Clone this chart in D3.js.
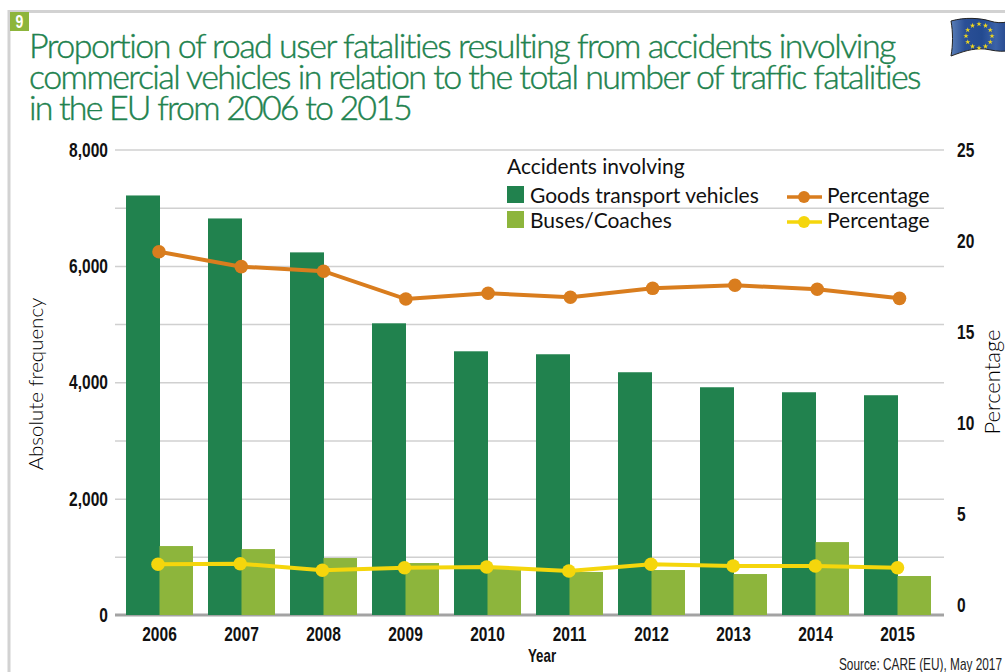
<!DOCTYPE html>
<html><head><meta charset="utf-8">
<script src="https://cdnjs.cloudflare.com/ajax/libs/d3/7.8.5/d3.min.js"></script>
<style>
html,body{margin:0;padding:0;background:#fff;overflow:hidden}
svg{display:block}
.t{font-family:"Lato","Open Sans",sans-serif;font-variant-ligatures:none}
.n{font-family:"Liberation Sans",sans-serif;font-weight:700}
</style></head><body>
<svg id="c" width="1005" height="672"></svg>
<script>
const years=[2006,2007,2008,2009,2010,2011,2012,2013,2014,2015];
const goods=[7210,6815,6232,5013,4532,4481,4172,3914,3828,3777];
const buses=[1185,1133,979,893,790,740,773,704,1253,670];
const goodsPct=[19.41,18.59,18.34,16.81,17.13,16.91,17.4,17.57,17.35,16.85];
const busesPct=[2.24,2.27,1.91,2.05,2.09,1.87,2.24,2.14,2.14,2.05];
const leftTicks=[0,2000,4000,6000,8000];
const gridTicks=[1000,2000,3000,4000,5000,6000,7000,8000];
const rightTicks=[0,5,10,15,20,25];
const titleLines=["Proportion of road user fatalities resulting from accidents involving","commercial vehicles in relation to the total number of traffic fatalities","in the EU from 2006 to 2015"];
const C={dark:"#21824e",light:"#8db53c",orange:"#d97d1e",yellow:"#f5d60c",grid:"#d0d0d0",base:"#a3a3a3",title:"#21824e"};

const svg=d3.select("#c");
const y=d3.scaleLinear().domain([0,8000]).range([615,149.5]);
const yR=d3.scaleLinear().domain([0,25]).range([605,150]);
const x=d3.scaleBand().domain(years).range([126,931]).paddingInner(15/82).paddingOuter(0);
const xIn=d3.scaleBand().domain(["g","b"]).range([0,x.bandwidth()]);
const xLineO=d3.scalePoint().domain(years).range([159,899.5]);
const xLineY=d3.scalePoint().domain(years).range([158,897.5]);
const NARROW=0.74;

// frame
svg.append("path").attr("d","M9,672V11.5H1005").attr("fill","none").attr("stroke","#d2d2d2").attr("stroke-width",3);
svg.append("rect").attr("x",10).attr("y",12).attr("width",19).attr("height",19).attr("fill",C.light);
svg.append("text").attr("class","n").attr("transform",`translate(19.5,28) scale(${NARROW},1)`).attr("text-anchor","middle").attr("font-size",19).attr("fill","#fff").text("9");

// title
svg.append("g").selectAll("text").data(titleLines).join("text").attr("class","t")
 .attr("x",29).attr("y",(d,i)=>58+i*31).attr("font-size",34).attr("fill",C.title)
 .attr("stroke",C.title).attr("stroke-width",0.4)
 .attr("font-weight",300).text(d=>d)
 .each(function(d,i){
   const target=[866,891,382][i];
   const n=this.getComputedTextLength();
   d3.select(this).attr("letter-spacing",((target-n)/d.length).toFixed(3));
 });

// flag
const flag=svg.append("g").attr("transform","translate(0,1)");
const defs=svg.append("defs");
const g=defs.append("linearGradient").attr("id","fg");
[[0,"#5a7fb8"],[.25,"#2a4f96"],[.55,"#234a90"],[.8,"#3b62a8"],[1,"#27498e"]].forEach(s=>g.append("stop").attr("offset",s[0]).attr("stop-color",s[1]));
flag.append("path").attr("d","M951,20C965,16 980,17 990,20C996,22 1002,22 1007,21L1007,50C998,51 992,49 985,48C972,47 962,51 951,55C953,44 953,31 951,20Z").attr("fill","url(#fg)").attr("stroke","#222").attr("stroke-width",1);
const star=d3.symbol().type(d3.symbolStar).size(9);
d3.range(12).forEach(i=>{const a=i/12*2*Math.PI;
 flag.append("path").attr("d",star()).attr("fill","#f0d71e").attr("transform",`translate(${979+13*Math.sin(a)},${35-12*Math.cos(a)})`);});

// grid
svg.append("g").attr("transform","translate(115,0)")
 .call(d3.axisRight(y).tickValues(gridTicks).tickSize(829).tickFormat(""))
 .call(s=>s.select(".domain").remove())
 .call(s=>s.selectAll("line").attr("stroke",C.grid).attr("stroke-width",1.5));
svg.append("line").attr("x1",115).attr("x2",944).attr("y1",y(0)).attr("y2",y(0)).attr("stroke",C.base).attr("stroke-width",3);

// bars
svg.append("g").selectAll("rect").data(years).join("rect")
 .attr("x",d=>x(d)+xIn("g")).attr("width",xIn.bandwidth()+.5)
 .attr("y",(d,i)=>y(goods[i])).attr("height",(d,i)=>y(0)-y(goods[i])).attr("fill",C.dark);
svg.append("g").selectAll("rect").data(years).join("rect")
 .attr("x",d=>x(d)+xIn("b")).attr("width",xIn.bandwidth())
 .attr("y",(d,i)=>y(buses[i])).attr("height",(d,i)=>y(0)-y(buses[i])).attr("fill",C.light);

// lines
function series(vals,col,xs){
 const l=d3.line().x((d,i)=>xs(years[i])).y(d=>yR(d));
 svg.append("path").attr("d",l(vals)).attr("fill","none").attr("stroke",col).attr("stroke-width",4);
 svg.append("g").selectAll("circle").data(vals).join("circle")
  .attr("cx",(d,i)=>xs(years[i])).attr("cy",d=>yR(d)).attr("r",6.8).attr("fill",col);
}
series(goodsPct,C.orange,xLineO);
series(busesPct,C.yellow,xLineY);

// axes
function clean(s,size){s.select(".domain").remove();s.selectAll("line").remove();
 s.selectAll("text").attr("class","n").attr("font-size",size).attr("fill","#111").attr("transform",`scale(${NARROW},1)`);}
svg.append("g").attr("transform","translate(108,0)")
 .call(d3.axisLeft(y).tickValues(leftTicks).tickSize(0).tickPadding(0).tickFormat(d3.format(",")))
 .call(s=>clean(s,21));
svg.append("g").attr("transform","translate(957,0)")
 .call(d3.axisRight(yR).tickValues(rightTicks).tickSize(0).tickPadding(0))
 .call(s=>clean(s,21));
svg.append("g").attr("transform","translate(0,626)")
 .call(d3.axisBottom(x).tickSize(0).tickPadding(0).tickFormat(d3.format("d")))
 .call(s=>clean(s,21));

svg.append("text").attr("class","n").attr("transform",`translate(542,662) scale(${NARROW},1)`).attr("text-anchor","middle").attr("font-size",18).attr("fill","#111").text("Year");
svg.append("text").attr("transform",`translate(1002,670) scale(${NARROW},1)`).attr("text-anchor","end").attr("font-family","Liberation Sans").attr("font-size",16).attr("fill","#222").text("Source: CARE (EU), May 2017");
svg.append("text").attr("class","t").attr("font-weight",300).attr("transform","translate(43,384) rotate(-90)").attr("text-anchor","middle").attr("font-size",20.5).attr("fill","#000").text("Absolute frequency");
svg.append("text").attr("class","t").attr("font-weight",300).attr("transform","translate(1000,382) rotate(-90)").attr("text-anchor","middle").attr("font-size",22).attr("fill","#000").text("Percentage");

// legend
const lg=svg.append("g").attr("class","t").attr("font-size",21).attr("fill","#111");
lg.append("text").attr("x",507).attr("y",174).text("Accidents involving");
[["Goods transport vehicles",C.dark,186,203],["Buses/Coaches",C.light,211,228]].forEach(r=>{
 lg.append("rect").attr("x",507).attr("y",r[2]).attr("width",17).attr("height",17).attr("fill",r[1]);
 lg.append("text").attr("x",530).attr("y",r[3]).text(r[0]);
});
[[C.orange,197,203],[C.yellow,222,228]].forEach(r=>{
 lg.append("line").attr("x1",787).attr("x2",822).attr("y1",r[1]).attr("y2",r[1]).attr("stroke",r[0]).attr("stroke-width",3.5);
 lg.append("circle").attr("cx",804).attr("cy",r[1]).attr("r",6).attr("fill",r[0]);
 lg.append("text").attr("x",827).attr("y",r[2]).text("Percentage");
});
</script></body></html>
